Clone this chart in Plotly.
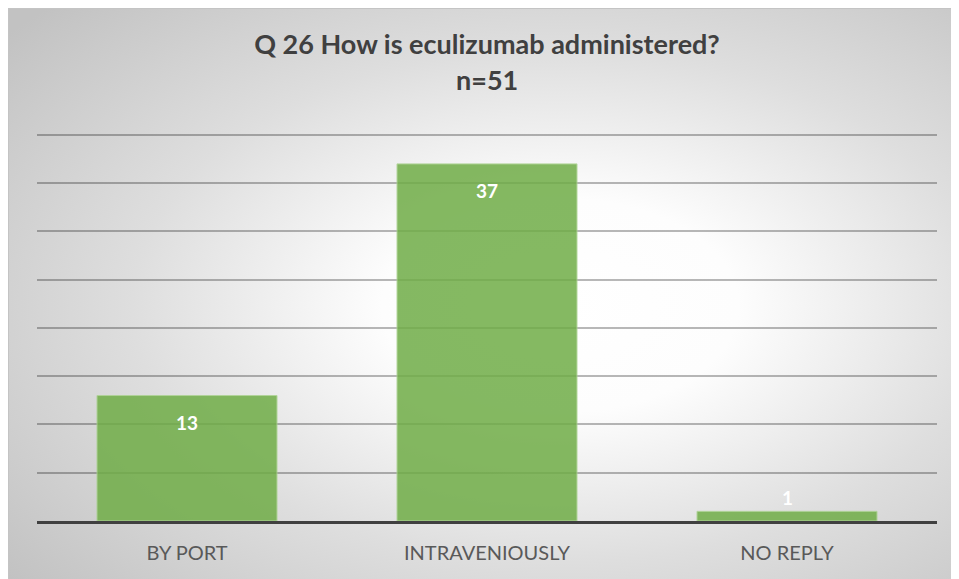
import plotly.graph_objects as go
import urllib.parse

categories = ["BY PORT", "INTRAVENIOUSLY", "NO REPLY"]
values = [13, 37, 1]
title_line1 = "Q 26 How is eculizumab administered?"
title_line2 = "n=51"

# figure is placed by the browser at an 8px body margin
W, H = 951, 571
L, R, T, B = 29, 22, 125, 58
plot_h = H - T - B
plot_w = W - L - R

fig = go.Figure()
fig.add_trace(go.Bar(
    x=categories, y=values,
    marker=dict(color="#70ad47", opacity=0.85, line=dict(color="#a9d18e", width=1)),
    width=0.6,
    hoverinfo="x+y",
))

annotations = []
for c, v in zip(categories, values):
    inside = v >= 5
    annotations.append(dict(
        x=c, y=v, xref="x", yref="y", text=str(v), showarrow=False,
        yshift=-27 if inside else 14, yanchor="middle",
        font=dict(family="Lato", size=19, color="white", weight="bold"),
    ))
annotations.append(dict(
    x=0.5, y=(H - B - 71) / plot_h, xref="paper", yref="paper", text=title_line2,
    showarrow=False, yanchor="middle", xanchor="center",
    font=dict(family="Lato", size=27, color="#404040", weight="bold"),
))

svg = ("<svg xmlns='http://www.w3.org/2000/svg' width='951' height='571' viewBox='0 0 951 571' preserveAspectRatio='none'>"
       "<defs><radialGradient id='g' cx='58%' cy='52%' r='75%'>"
       "<stop offset='0' stop-color='#ffffff'/>"
       "<stop offset='0.25' stop-color='#fdfdfd'/>"
       "<stop offset='0.6' stop-color='#dedede'/>"
       "<stop offset='1' stop-color='#c2c2c2'/>"
       "</radialGradient></defs>"
       "<rect x='0.5' y='0.5' width='951' height='571' fill='url(#g)' stroke='#c4c4c4' stroke-width='1'/></svg>")
src = "data:image/svg+xml;charset=utf-8," + urllib.parse.quote(svg)

fig.add_layout_image(dict(
    source=src, xref="paper", yref="paper",
    x=-L / plot_w, y=(H - B) / plot_h,
    sizex=W / plot_w, sizey=H / plot_h,
    sizing="stretch", xanchor="left", yanchor="top", layer="below",
))

fig.update_layout(
    width=W, height=H,
    margin=dict(l=L, r=R, t=T, b=B),
    paper_bgcolor="white", plot_bgcolor="rgba(0,0,0,0)",
    title=dict(text=title_line1, x=0.5, xanchor="center", xref="paper",
               y=1 - 37 / H, yanchor="middle", yref="container",
               font=dict(family="Lato", size=27, color="#404040", weight="bold")),
    annotations=annotations,
    showlegend=False,
    bargap=0.4,
)
fig.update_xaxes(showline=True, linecolor="#404040", linewidth=3,
                 tickfont=dict(family="Lato", size=20, color="#595959"),
                 ticks="", ticklabelstandoff=12, showgrid=False)
fig.update_yaxes(range=[0, 40.2], tickvals=[5, 10, 15, 20, 25, 30, 35, 40],
                 showticklabels=False, showgrid=True,
                 gridcolor="rgba(0,0,0,0.28)", gridwidth=1.5, zeroline=False, showline=False)

fig.write_html("out.html")
